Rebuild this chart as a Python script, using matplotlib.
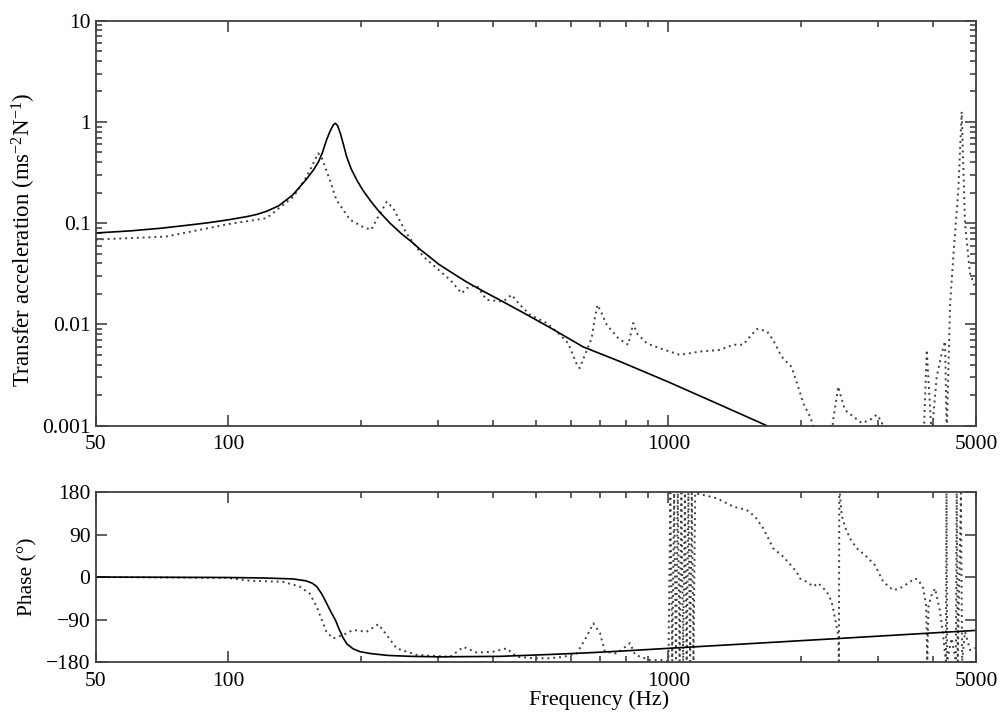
import numpy as np
import matplotlib
matplotlib.use("Agg")
import matplotlib.pyplot as plt
from matplotlib.ticker import FixedLocator, FixedFormatter, NullFormatter

plt.rcParams['font.family'] = ['Liberation Serif', 'DejaVu Serif']
plt.rcParams['mathtext.fontset'] = 'custom'
plt.rcParams['mathtext.rm'] = 'Liberation Serif'
plt.rcParams['mathtext.default'] = 'regular'

# model curve (solid), magnitude
model_f_mag = [50, 60, 70, 80, 90, 100, 110, 116, 122, 130, 140, 150, 156, 160, 163.3, 167,
               170, 173, 175, 177, 179.6, 182.5, 185.6, 190, 195.7, 202, 209.7, 220, 232.9,
               247, 263, 273, 287, 300, 325, 348, 380, 414, 470, 538, 640, 776, 1000, 1300,
               1673, 2000]
model_mag = [0.080, 0.084, 0.089, 0.095, 0.101, 0.108, 0.116, 0.122, 0.131, 0.148, 0.19,
             0.268, 0.335, 0.40, 0.49, 0.66, 0.80, 0.93, 0.97, 0.92, 0.77, 0.60, 0.454,
             0.345, 0.267, 0.212, 0.169, 0.13, 0.10, 0.079, 0.0634, 0.0548, 0.0462, 0.0395,
             0.0316, 0.0262, 0.0212, 0.0174, 0.0129, 0.0093, 0.0060, 0.0043, 0.0027,
             0.00163, 0.0010, 0.00071]

# model curve (solid), phase
model_f_ph = [50, 100, 120, 140, 150, 155, 158.7, 163, 167, 171, 175, 178, 182, 186, 192,
              199, 210, 230, 260, 300, 414, 538, 640, 776, 1000, 1673, 2454, 5000]
model_ph = [0, -1, -2, -4, -8, -13, -20, -36, -55, -74, -91, -108, -128, -142, -152, -158,
            -162, -166, -168, -169, -168, -164, -161, -157, -151, -139, -130, -113]

# measured curve (dotted), magnitude
meas_f_mag = [50, 72, 100, 122, 140.6, 150.6, 160, 163, 170, 176, 189, 202, 211, 219, 229,
              237, 254, 277, 319, 339, 348, 366, 386, 421, 440, 460, 484, 529, 567, 592,
              618, 628, 646, 669, 681, 690, 705, 724, 769, 810, 832, 847, 893, 957, 1062,
              1180, 1309, 1404, 1479, 1520, 1587, 1673, 1730, 1808, 1905, 1973, 2025, 2098,
              2133, 2200, 2330, 2370, 2432, 2454, 2518, 2630, 2750, 2870, 2973, 3053, 3100,
              3800, 3864, 3965, 4071, 4180, 4252, 4290, 4364, 4440, 4558, 4640, 4720, 4845,
              5000]
meas_mag = [0.069, 0.0736, 0.098, 0.112, 0.183, 0.288, 0.49, 0.44, 0.267, 0.169, 0.108,
            0.092, 0.086, 0.116, 0.163, 0.14, 0.079, 0.047, 0.0275, 0.0203, 0.0228, 0.0245,
            0.0175, 0.0168, 0.0196, 0.0156, 0.0125, 0.0103, 0.0079, 0.0065, 0.0041, 0.0037,
            0.0050, 0.0073, 0.0119, 0.0156, 0.0129, 0.0099, 0.0073, 0.0063, 0.0103, 0.0082,
            0.0065, 0.0058, 0.0050, 0.0054, 0.0056, 0.0063, 0.0063, 0.0073, 0.0090, 0.0086,
            0.0070, 0.0048, 0.0038, 0.0024, 0.00166, 0.00123, 0.0010, 0.0006, 0.0006,
            0.00117, 0.00243, 0.00209, 0.00143, 0.00123, 0.00106, 0.00114, 0.00128, 0.0011,
            0.0007, 0.0007, 0.0056, 0.0008, 0.00305, 0.0052, 0.0068, 0.0008, 0.015, 0.047,
            0.213, 1.26, 0.0998, 0.032, 0.022]

# measured curve (dotted), phase
meas_f_ph = [50, 100, 112, 133, 145, 153, 158.7, 163, 167, 173, 182, 192, 206, 219, 229,
             241, 268, 319, 342, 367, 400, 429, 452, 493, 538, 577, 619, 652, 675, 699,
             717, 763, 818, 840, 908, 973,
             1000, 1010, 1020, 1030, 1040, 1050, 1060, 1070, 1080, 1090, 1100, 1110, 1120,
             1130, 1140, 1150,
             1160, 1287, 1404, 1506, 1573, 1643, 1730, 1824, 1956, 1990, 2061, 2133, 2190,
             2290, 2349, 2390, 2432, 2440, 2445, 2454, 2476, 2518, 2585, 2677, 2822, 2948,
             3076, 3243, 3358, 3508, 3631, 3697, 3795, 3850, 3875, 3900, 3965, 4035, 4143,
             4200, 4270, 4285, 4300, 4400, 4500, 4520, 4545, 4620, 4650, 4720, 4850, 5000]
meas_ph = [0, -2, -8, -10, -20, -35, -63, -91, -116, -130, -123, -112, -116, -100, -123,
           -151, -165, -169, -148, -160, -158, -151, -169, -172, -172, -169, -162, -126, -98,
           -119, -158, -162, -140, -165, -176, -176,
           -178, 178, -178, 178, -178, 178, -178, 178, -178, 178, -178, 178, -178, 178,
           -178, 178,
           177, 167, 149, 142, 128, 103, 61, 43, 11, -3, -10, -20, -13, -31, -52, -87, -123,
           -178, 178, 174, 131, 107, 82, 61, 43, 25, -10, -28, -24, -13, -3, -6, -24, -60,
           -178, -60, -38, -24, -73, -116, -178, 178, -178, -130, -178, 178, -178, 178,
           -178, -116, -155, -150]

fig = plt.figure(figsize=(10, 7.13), dpi=100)
ax1 = fig.add_axes([0.096, 0.403, 0.88, 0.568])
ax2 = fig.add_axes([0.096, 0.0715, 0.88, 0.2384])

dot_style = dict(color='0.25', lw=1.4, linestyle=(0, (1.0, 2.0)))
ax1.plot(meas_f_mag, meas_mag, **dot_style)
ax1.plot(model_f_mag, model_mag, color='black', lw=1.2)
ax2.plot(meas_f_ph, meas_ph, **dot_style)
ax2.plot(model_f_ph, model_ph, color='black', lw=1.2)

xmaj = [50, 100, 1000, 5000]
xmin = [200, 300, 400, 500, 600, 700, 800, 900, 2000, 3000, 4000]
for ax in (ax1, ax2):
    ax.set_xscale('log')
    ax.set_xlim(50, 5000)
    ax.xaxis.set_major_locator(FixedLocator(xmaj))
    ax.xaxis.set_major_formatter(FixedFormatter([str(v) for v in xmaj]))
    ax.xaxis.set_minor_locator(FixedLocator(xmin))
    ax.xaxis.set_minor_formatter(NullFormatter())
    ax.tick_params(which='both', direction='in', top=True, right=True,
                   labelsize=15.5, color='0.2', width=1.1)
    ax.tick_params(which='major', length=8)
    ax.tick_params(which='minor', length=4.5)
    ax.tick_params(axis='x', pad=7)
    ax.tick_params(axis='y', pad=4)
    for s in ax.spines.values():
        s.set_color('0.25')
        s.set_linewidth(1.3)

ax1.set_yscale('log')
ax1.set_ylim(0.001, 10)
ytk = [0.001, 0.01, 0.1, 1, 10]
ax1.yaxis.set_major_locator(FixedLocator(ytk))
ax1.yaxis.set_major_formatter(FixedFormatter(['0.001', '0.01', '0.1', '1', '10']))
ax1.set_ylabel('Transfer acceleration (ms$^{-2}$N$^{-1}$)', fontsize=16.5)
ax1.yaxis.set_label_coords(-0.066, 0.46)

ax2.set_ylim(-180, 180)
ax2.set_yticks([-180, -90, 0, 90, 180])
ax2.set_yticklabels(['\u2212180', '\u221290', '0', '90', '180'])
ax2.set_ylabel('Phase (\u00b0)', fontsize=15.5)
ax2.yaxis.set_label_coords(-0.066, 0.5)
ax2.set_xlabel('Frequency (Hz)', fontsize=16, labelpad=0)
ax2.xaxis.label.set_x(0.572)

fig.savefig('out.png', dpi=100)
